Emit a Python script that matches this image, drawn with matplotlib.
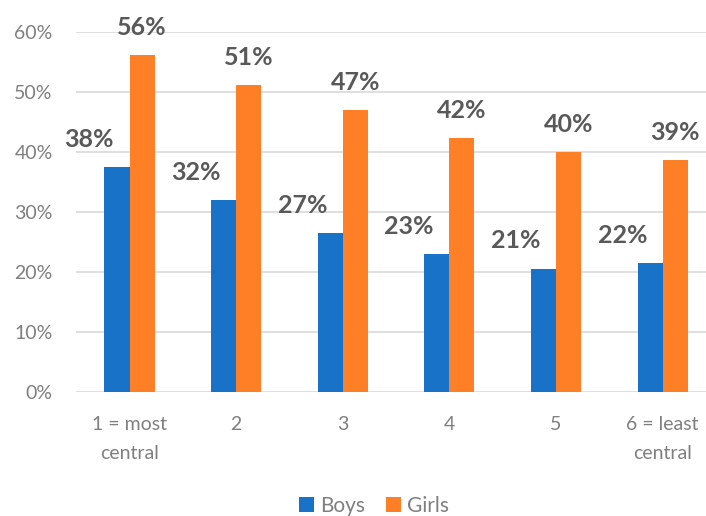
import numpy as np
import matplotlib.pyplot as plt

# Share of pupils by centrality rank
categories = ['1 = most\ncentral', '2', '3', '4', '5', '6 = least\ncentral']
boys = [37.5, 32.0, 26.5, 23.0, 20.6, 21.5]
girls = [56.2, 51.2, 47.0, 42.4, 40.0, 38.6]
boys_labels = ['38%', '32%', '27%', '23%', '21%', '22%']
girls_labels = ['56%', '51%', '47%', '42%', '40%', '39%']

plt.rcParams['font.family'] = ['Lato', 'DejaVu Sans']

blue = '#1872C8'
orange = '#FF7F27'
grey_text = '#7F7F7F'
label_grey = '#595959'

fig = plt.figure(figsize=(7.06, 5.16), dpi=100)
ax = fig.add_axes([0.108, 0.24, 0.906, 0.698])

x = np.arange(len(categories))
w = 0.235
ax.bar(x - w / 2, boys, w, color=blue, label='Boys', zorder=3)
ax.bar(x + w / 2, girls, w, color=orange, label='Girls', zorder=3)

# data labels: boys to the upper left, girls above the bar
for i in range(len(categories)):
    ax.text(x[i] - w / 2 - 0.26, boys[i] + 4.6, boys_labels[i], ha='center', va='center',
            fontsize=18, fontweight='bold', color=label_grey)
    ax.text(x[i] + w / 2, girls[i] + 4.6, girls_labels[i], ha='center', va='center',
            fontsize=18, fontweight='bold', color=label_grey)

ax.set_xlim(-0.5, 5.5)
ax.set_ylim(0, 60)
ax.set_yticks(range(0, 61, 10))
ax.set_yticklabels([f'{v}%' for v in range(0, 61, 10)])
ax.set_xticks(x)
ax.set_xticklabels(categories, linespacing=1.85)
ax.tick_params(axis='both', length=0, labelsize=14, colors=grey_text)
ax.tick_params(axis='y', pad=17)
ax.tick_params(axis='x', pad=17)
ax.grid(axis='y', color='#D9D9D9', linewidth=1.2, zorder=0)
for s in ax.spines.values():
    s.set_visible(False)

fig.legend(loc='center', bbox_to_anchor=(0.53, 0.02), ncol=2, frameon=False,
           fontsize=15, labelcolor=grey_text, handlelength=0.7, handleheight=0.7,
           handletextpad=0.3, columnspacing=1.0)

fig.savefig('out.png', dpi=100)
